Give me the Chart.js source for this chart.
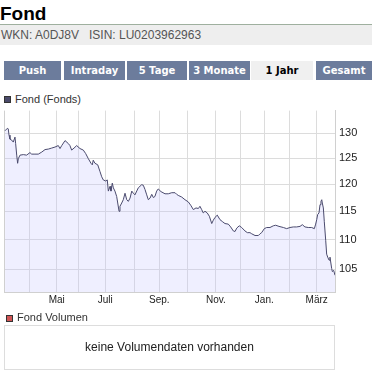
<!DOCTYPE html>
<html>
<head>
<meta charset="utf-8">
<script src="https://cdn.jsdelivr.net/npm/chart.js@4/dist/chart.umd.min.js"></script>
<style>
  html, body { margin:0; padding:0; background:#fff; }
  body { width:372px; height:375px; position:relative; overflow:hidden; font-family:"Liberation Sans", Arial, sans-serif; }
  .abs { position:absolute; }
  #title { left:0; top:4px; font-weight:bold; font-size:19px; line-height:19px; color:#000; }
  #rule { left:0; top:24px; width:372px; height:1px; background:#9fb09f; }
  #band { left:0; top:25px; width:372px; height:20px; background:#eeeeee; font-size:12px; line-height:20px; color:#555; padding-left:1px; box-sizing:border-box; }
  .tab { top:61px; height:19px; line-height:19px; background:#6c7c9c; color:#fff; text-align:center; font-family:"DejaVu Sans", Verdana, sans-serif; font-weight:bold; font-size:10px; }
  .tab.sel { background:#f0f0f0; color:#000; }
  .leg { font-size:11px; line-height:13px; color:#333; }
  .sq { width:5px; height:5px; border:1px solid #333; }
  #box { left:4px; top:325px; width:329px; height:43px; border:1px solid #dddddd; text-align:center; font-size:12px; line-height:43px; color:#222; }
  #chartWrap { left:0; top:100px; width:372px; height:212px; }
</style>
</head>
<body>
<div id="title" class="abs">Fond</div>
<div id="rule" class="abs"></div>
<div id="band" class="abs">WKN: A0DJ8V&nbsp;&nbsp;&nbsp;ISIN: LU0203962963</div>

<div class="abs tab" style="left:4px;width:57px;">Push</div>
<div class="abs tab" style="left:64px;width:61px;">Intraday</div>
<div class="abs tab" style="left:127px;width:60px;">5 Tage</div>
<div class="abs tab" style="left:189px;width:61px;">3 Monate</div>
<div class="abs tab sel" style="left:251px;width:62px;">1 Jahr</div>
<div class="abs tab" style="left:316px;width:56px;">Gesamt</div>

<div class="abs sq" style="left:4px;top:96px;background:#4a4a6a;"></div>
<div class="abs leg" style="left:15px;top:93px;">Fond (Fonds)</div>

<div id="chartWrap" class="abs"><canvas id="c" width="372" height="212"></canvas></div>

<div class="abs sq" style="left:6px;top:315px;background:#d05555;"></div>
<div class="abs leg" style="left:17px;top:311px;">Fond Volumen</div>
<div id="box" class="abs">keine Volumendaten vorhanden</div>

<script>
// trading-day index (approx.) of each traced point
const dayIndex = [0.8,2.5,3.2,3.8,4.5,5.8,7.0,8.3,8.8,9.6,
  10.3,10.8,12.1,14.6,17.1,19.6,20.9,23.4,25.9,28.5,
  31.0,33.5,36.0,38.5,41.0,42.3,43.6,46.1,48.6,49.8,
  51.1,52.9,54.9,57.4,59.9,61.7,63.7,65.7,66.7,67.4,
  68.7,70.8,72.5,73.8,75.0,76.8,78.0,78.8,80.1,80.8,
  81.8,82.6,83.8,85.1,85.9,86.9,87.6,88.9,90.1,91.4,
  92.7,93.9,95.2,96.5,97.7,98.9,101.4,104.0,105.2,106.5,
  107.8,109.0,110.3,111.6,112.8,114.0,115.3,116.5,118.6,121.6,
  124.1,126.7,129.2,130.4,131.6,134.2,136.7,139.2,141.0,143.0,
  145.0,146.8,148.0,149.3,150.5,151.8,153.5,155.1,156.9,158.1,
  159.4,161.1,163.1,165.2,166.9,169.4,171.2,173.2,174.5,175.8,
  177.7,179.5,182.0,183.8,185.8,187.1,189.6,192.1,193.4,194.6,
  196.6,198.4,200.9,203.4,205.2,207.7,211.0,213.5,216.0,218.5,
  221.0,223.6,225.3,227.3,229.8,232.4,234.4,235.4,236.2,236.9,
  237.9,238.7,239.4,240.0,240.4,241.2,241.9,243.0,243.7,244.5,
  245.5,246.2,247.5,248.0,249.0,250.0];

const fundValues = [130.5,131.0,130.9,129.6,128.8,128.6,128.2,129.2,127.9,125.6,
  124.0,124.9,125.6,125.7,125.6,126.1,125.8,125.8,125.8,126.2,
  126.7,126.8,127.0,127.2,127.5,126.9,127.5,128.5,127.9,127.5,
  126.6,127.0,127.5,126.9,126.6,125.9,124.9,124.0,123.7,124.6,
  124.0,123.7,122.4,121.4,120.8,120.6,120.8,118.7,119.6,118.7,
  120.2,119.3,118.7,117.7,116.5,115.0,115.9,116.5,117.1,118.3,
  117.1,116.8,117.4,118.7,118.3,118.0,119.3,119.9,119.8,119.0,
  118.0,117.1,117.4,118.1,117.5,117.7,118.7,119.1,118.6,118.2,
  118.2,118.4,118.4,118.1,117.9,117.6,117.1,116.7,116.1,115.3,
  115.6,115.5,115.9,115.3,114.7,115.0,114.7,114.1,112.8,113.4,
  113.9,114.3,113.5,113.1,112.8,112.7,112.2,111.5,111.4,112.0,
  112.4,112.1,111.5,111.2,111.2,111.0,110.7,110.7,111.0,111.2,
  111.9,112.1,112.1,112.4,112.5,112.3,112.1,111.9,112.1,112.2,
  112.2,112.3,112.6,112.2,112.1,112.1,111.9,112.7,113.5,114.4,
  114.7,116.2,116.8,117.1,116.5,115.6,113.2,109.8,107.5,107.0,
  106.5,107.0,105.1,104.6,104.8,104.0];

// month starts (trading-day index) and their labels
const monthTickPos = [19.1,39.8,56.1,76.5,98.4,117.3,138.7,160.1,178.5,196.6,215.5,236.2];
const monthTickLabels = ['', 'Mai', '', 'Juli', '', 'Sep.', '', 'Nov.', '', 'Jan.', '', 'März'];
const yTickValues = [105,110,115,120,125,130];
const xRange = [0, 250];
const yRange = [101.3, 134.7];

const points = dayIndex.map((d, i) => ({ x: d, y: fundValues[i] }));

const leftBorder = {
  id: 'leftBorder',
  beforeDatasetsDraw(chart) {
    const { ctx, chartArea: a } = chart;
    ctx.save();
    ctx.strokeStyle = '#d0d0d0';
    ctx.lineWidth = 1;
    ctx.beginPath();
    ctx.moveTo(a.left + 0.5, a.top);
    ctx.lineTo(a.left + 0.5, a.bottom);
    ctx.stroke();
    ctx.restore();
  }
};

new Chart(document.getElementById('c'), {
  type: 'line',
  data: {
    datasets: [{
      label: 'Fond (Fonds)',
      data: points,
      borderColor: '#4b4b6e',
      borderWidth: 1,
      backgroundColor: 'rgba(192,192,255,0.25)',
      fill: 'start',
      pointRadius: 0,
      tension: 0
    }]
  },
  options: {
    responsive: false,
    animation: false,
    devicePixelRatio: 1,
    layout: { padding: { left: 4, top: 8, right: 0, bottom: 0 } },
    plugins: { legend: { display: false }, tooltip: { enabled: false } },
    scales: {
      x: {
        type: 'linear',
        min: xRange[0], max: xRange[1],
        afterBuildTicks: s => { s.ticks = monthTickPos.map(v => ({ value: v })); },
        afterFit: s => { s.height = 20; },
        ticks: {
          autoSkip: false, maxRotation: 0, padding: 2,
          color: '#222', font: { family: 'Liberation Sans', size: 10 },
          callback: (v, i) => monthTickLabels[i]
        },
        grid: { color: '#dcdcdc', drawTicks: false },
        border: { color: '#d0d0d0' }
      },
      y: {
        type: 'logarithmic',
        position: 'right',
        min: yRange[0], max: yRange[1],
        afterBuildTicks: s => { s.ticks = yTickValues.map(v => ({ value: v })); },
        afterFit: s => { s.width = 37; },
        ticks: {
          padding: 4, color: '#222', font: { family: 'Liberation Sans', size: 11 },
          callback: v => String(v)
        },
        grid: { color: '#dcdcdc', drawTicks: false },
        border: { color: '#d0d0d0' }
      }
    }
  },
  plugins: [leftBorder]
});
</script>
</body>
</html>
